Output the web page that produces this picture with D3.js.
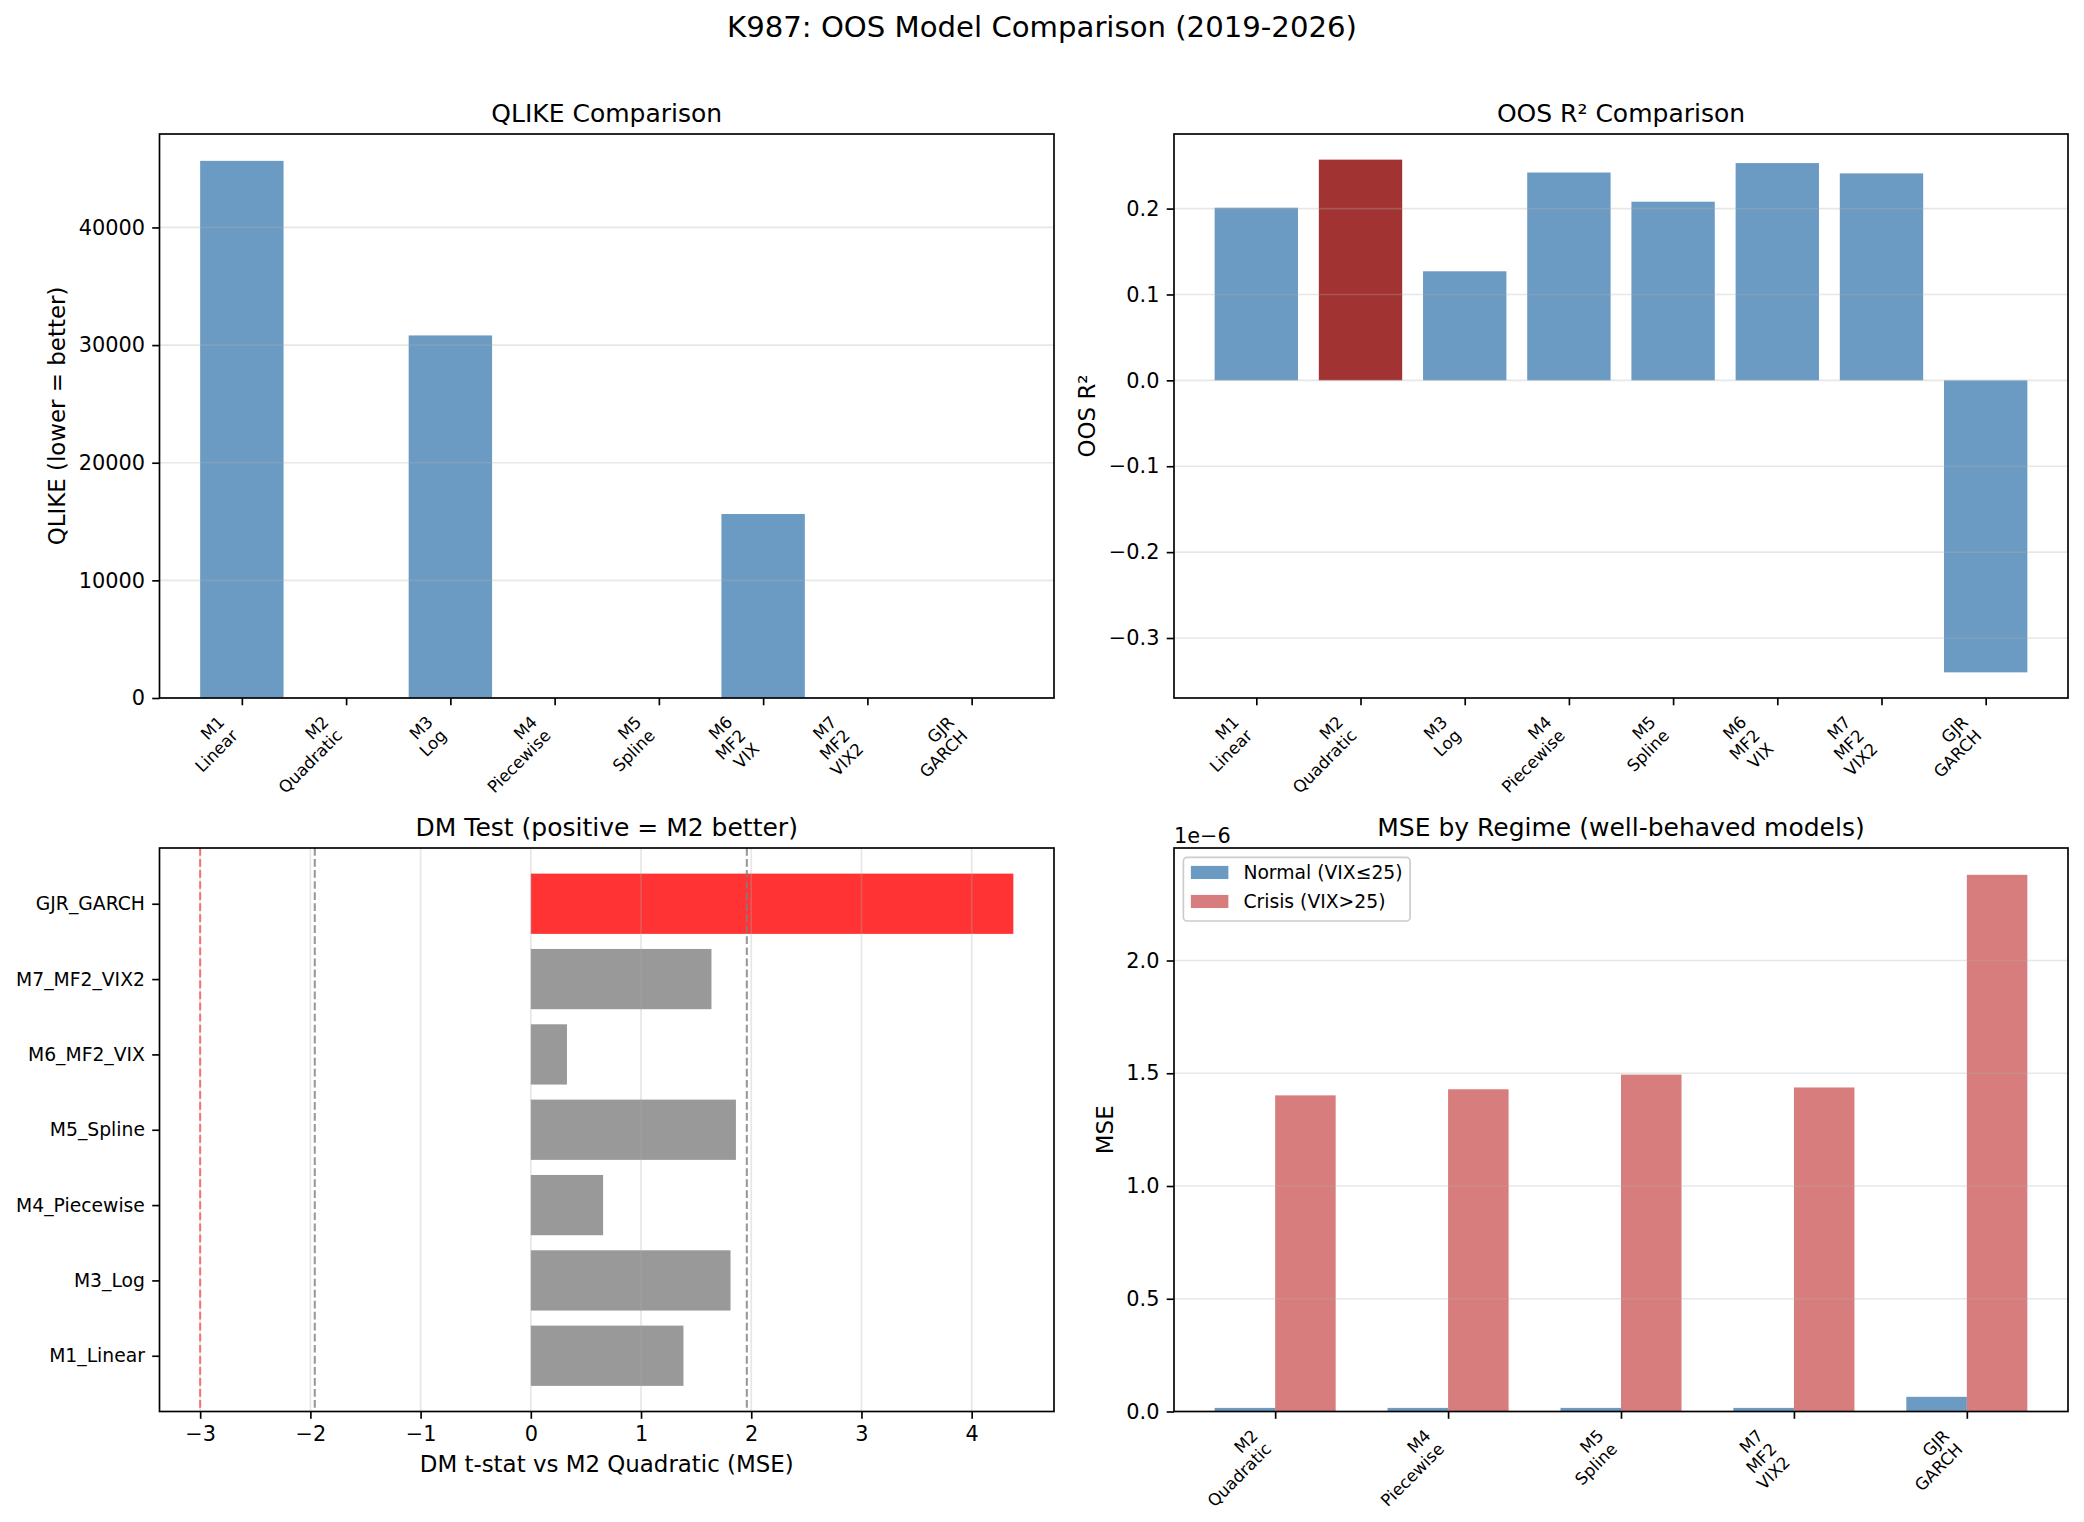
<!DOCTYPE html>
<html>
<head>
<meta charset="utf-8">
<script src="https://cdn.jsdelivr.net/npm/d3@7"></script>
<style>
  body { margin: 0; background: #fff; }
  svg text { font-family: 'DejaVu Sans', sans-serif; fill: #000; }
</style>
</head>
<body>
<svg id="fig" width="2084" height="1522"></svg>
<script>
// ---- data ----
const modelLabels = ['M1\nLinear', 'M2\nQuadratic', 'M3\nLog', 'M4\nPiecewise', 'M5\nSpline', 'M6\nMF2\nVIX', 'M7\nMF2\nVIX2', 'GJR\nGARCH'];
const qlikeValues = [45660, 0, 30820, 0, 0, 15640, 0, 0];
const r2Values = [0.201, 0.257, 0.127, 0.242, 0.208, 0.253, 0.241, -0.340];
const bestModel = 'M2\nQuadratic';

const dmLabels = ['M1_Linear', 'M3_Log', 'M4_Piecewise', 'M5_Spline', 'M6_MF2_VIX', 'M7_MF2_VIX2', 'GJR_GARCH'];
const dmValues = [1.385, 1.812, 0.656, 1.861, 0.328, 1.639, 4.378];
const dmCritical = 1.96;
const dmRefLine = -3;

const regimeLabels = ['M2\nQuadratic', 'M4\nPiecewise', 'M5\nSpline', 'M7\nMF2\nVIX2', 'GJR\nGARCH'];
const mseNormal = [0.016e-6, 0.016e-6, 0.016e-6, 0.016e-6, 0.065e-6];
const mseCrisis = [1.402e-6, 1.429e-6, 1.494e-6, 1.437e-6, 2.380e-6];
const legendLabels = ['Normal (VIX\u226425)', 'Crisis (VIX>25)'];

const qlikeTicks = [0, 10000, 20000, 30000, 40000];
const r2Ticks = [-0.3, -0.2, -0.1, 0.0, 0.1, 0.2];
const dmTicks = [-3, -2, -1, 0, 1, 2, 3, 4];
const mseTicks = [0, 0.5e-6, 1.0e-6, 1.5e-6, 2.0e-6];

// ---- figure geometry (matplotlib at 150 dpi) ----
const W = 2084, H = 1522;
const PT = 150 / 72;
const TICK = 3.5 * PT, PAD = 3.5 * PT, LW = 0.8 * PT;
const FS_TICK = 10 * PT, FS_LABEL = 11 * PT, FS_SMALL = 8 * PT, FS_MED = 9 * PT, FS_TITLE = 12 * PT, FS_SUP = 14 * PT;
const BLUE = '#4682b4', DARKRED = '#8b0000', INDIANRED = '#cd5c5c';

const boxes = {
  tl: { x0: 159.5, x1: 1054, y0: 134, y1: 698 },
  tr: { x0: 1174, x1: 2068, y0: 134, y1: 698 },
  bl: { x0: 159.5, x1: 1054, y0: 848, y1: 1411.5 },
  br: { x0: 1174, x1: 2068, y0: 848, y1: 1411.5 }
};

const svg = d3.select('#fig');
svg.append('rect').attr('width', W).attr('height', H).attr('fill', '#fff');

svg.append('text')
  .attr('x', W / 2).attr('y', 36.5)
  .attr('text-anchor', 'middle')
  .attr('font-size', FS_SUP)
  .text('K987: OOS Model Comparison (2019-2026)');

// categorical domain with matplotlib's 5% margins
function catDomain(n, half) {
  const lo = -half, hi = n - 1 + half, m = 0.05 * (hi - lo);
  return [lo - m, hi + m];
}
function padDomain(lo, hi) {
  const m = 0.05 * (hi - lo);
  return [lo - m, hi + m];
}

function panel(b, title) {
  const g = svg.append('g');
  g.append('text')
    .attr('x', (b.x0 + b.x1) / 2).attr('y', b.y0 - 6 * PT)
    .attr('text-anchor', 'middle')
    .attr('font-size', FS_TITLE)
    .text(title);
  return g;
}

function frame(g, b) {
  g.append('rect')
    .attr('x', b.x0).attr('y', b.y0)
    .attr('width', b.x1 - b.x0).attr('height', b.y1 - b.y0)
    .attr('fill', 'none').attr('stroke', '#000').attr('stroke-width', LW);
}

function styleAxis(ax, fs) {
  ax.attr('font-family', null).attr('font-size', null);
  ax.select('.domain').remove();
  ax.selectAll('line').attr('stroke', '#000').attr('stroke-width', LW);
  ax.selectAll('text').attr('font-size', fs).attr('fill', '#000');
}

function yAxis(g, b, y, ticks, fmt, fs) {
  const ax = g.append('g').attr('transform', `translate(${b.x0},0)`)
    .call(d3.axisLeft(y).tickValues(ticks).tickFormat(fmt).tickSize(TICK).tickPadding(PAD));
  styleAxis(ax, fs);
  return ax;
}

function yGrid(g, b, y, ticks) {
  g.append('g').selectAll('line').data(ticks).join('line')
    .attr('x1', b.x0).attr('x2', b.x1)
    .attr('y1', d => y(d)).attr('y2', d => y(d))
    .attr('stroke', '#b0b0b0').attr('stroke-opacity', 0.3).attr('stroke-width', LW);
}

function yLabel(g, b, ax, text) {
  const bb = ax.node().getBBox();
  const left = b.x0 + bb.x;
  const x = left - 4 * PT - 0.23 * FS_LABEL;
  const cy = (b.y0 + b.y1) / 2;
  g.append('text')
    .attr('transform', `translate(${x},${cy}) rotate(-90)`)
    .attr('text-anchor', 'middle')
    .attr('font-size', FS_LABEL)
    .text(text);
}

// x ticks with 45° rotated, right-aligned multi-line labels
function rotatedXAxis(g, b, x, labels) {
  const ax = g.append('g').attr('transform', `translate(0,${b.y1})`)
    .call(d3.axisBottom(x).tickValues(d3.range(labels.length)).tickFormat('').tickSize(TICK));
  styleAxis(ax, FS_SMALL);
  const c = Math.SQRT1_2;
  labels.forEach((lab, i) => {
    const outer = g.append('g').attr('transform', `translate(${x(i)},${b.y1 + TICK + PAD})`);
    const inner = outer.append('g');
    const t = inner.append('text')
      .attr('font-size', FS_SMALL)
      .attr('text-anchor', 'end')
      .attr('transform', 'rotate(-45)');
    lab.split('\n').forEach((line, k) => {
      t.append('tspan').attr('x', 0).attr('dy', k === 0 ? 0 : '1.14em').text(line);
    });
    const bb = t.node().getBBox();
    const corners = [[bb.x, bb.y], [bb.x + bb.width, bb.y], [bb.x, bb.y + bb.height], [bb.x + bb.width, bb.y + bb.height]]
      .map(([px, py]) => [c * (px + py), c * (py - px)]);
    const maxX = d3.max(corners, p => p[0]);
    const minY = d3.min(corners, p => p[1]);
    inner.attr('transform', `translate(${-maxX},${-minY})`);
  });
}

// ---- QLIKE comparison ----
{
  const b = boxes.tl;
  const g = panel(b, 'QLIKE Comparison');
  const x = d3.scaleLinear().domain(catDomain(qlikeValues.length, 0.4)).range([b.x0, b.x1]);
  const qMax = d3.max(qlikeValues);
  const y = d3.scaleLinear().domain([0, qMax * 1.05]).range([b.y1, b.y0]);
  g.append('g').selectAll('rect').data(qlikeValues).join('rect')
    .attr('x', (d, i) => x(i - 0.4)).attr('width', (d, i) => x(i + 0.4) - x(i - 0.4))
    .attr('y', d => y(d)).attr('height', d => y(0) - y(d))
    .attr('fill', BLUE).attr('fill-opacity', 0.8);
  yGrid(g, b, y, qlikeTicks);
  const ax = yAxis(g, b, y, qlikeTicks, d3.format('d'), FS_TICK);
  rotatedXAxis(g, b, x, modelLabels);
  frame(g, b);
  yLabel(g, b, ax, 'QLIKE (lower = better)');
}

// ---- OOS R² comparison ----
{
  const b = boxes.tr;
  const g = panel(b, 'OOS R\u00b2 Comparison');
  const x = d3.scaleLinear().domain(catDomain(r2Values.length, 0.4)).range([b.x0, b.x1]);
  const y = d3.scaleLinear().domain(padDomain(Math.min(0, d3.min(r2Values)), Math.max(0, d3.max(r2Values)))).range([b.y1, b.y0]);
  g.append('g').selectAll('rect').data(r2Values).join('rect')
    .attr('x', (d, i) => x(i - 0.4)).attr('width', (d, i) => x(i + 0.4) - x(i - 0.4))
    .attr('y', d => y(Math.max(0, d))).attr('height', d => Math.abs(y(0) - y(d)))
    .attr('fill', (d, i) => modelLabels[i] === bestModel ? DARKRED : BLUE).attr('fill-opacity', 0.8);
  yGrid(g, b, y, r2Ticks);
  const ax = yAxis(g, b, y, r2Ticks, d3.format('.1f'), FS_TICK);
  rotatedXAxis(g, b, x, modelLabels);
  frame(g, b);
  yLabel(g, b, ax, 'OOS R\u00b2');
}

// ---- DM test ----
{
  const b = boxes.bl;
  const g = panel(b, 'DM Test (positive = M2 better)');
  const x = d3.scaleLinear()
    .domain(padDomain(Math.min(dmRefLine, -dmCritical, 0, d3.min(dmValues)), Math.max(dmCritical, d3.max(dmValues))))
    .range([b.x0, b.x1]);
  const y = d3.scaleLinear().domain(catDomain(dmValues.length, 0.4)).range([b.y1, b.y0]);
  g.append('g').selectAll('rect').data(dmValues).join('rect')
    .attr('x', d => x(Math.min(0, d))).attr('width', d => Math.abs(x(d) - x(0)))
    .attr('y', (d, i) => y(i + 0.4)).attr('height', (d, i) => y(i - 0.4) - y(i + 0.4))
    .attr('fill', d => d > dmCritical ? '#ff0000' : '#808080').attr('fill-opacity', 0.8);
  g.append('g').selectAll('line').data(dmTicks).join('line')
    .attr('x1', d => x(d)).attr('x2', d => x(d)).attr('y1', b.y0).attr('y2', b.y1)
    .attr('stroke', '#b0b0b0').attr('stroke-opacity', 0.3).attr('stroke-width', LW);
  const vlines = [
    { v: dmRefLine, color: '#ff0000', op: 0.5 },
    { v: -dmCritical, color: '#808080', op: 0.8 },
    { v: dmCritical, color: '#808080', op: 0.8 }
  ];
  g.append('g').selectAll('line').data(vlines).join('line')
    .attr('x1', d => x(d.v)).attr('x2', d => x(d.v)).attr('y1', b.y0).attr('y2', b.y1)
    .attr('stroke', d => d.color).attr('stroke-opacity', d => d.op)
    .attr('stroke-width', 1 * PT).attr('stroke-dasharray', `${3.7 * PT},${1.6 * PT}`);
  const ay = g.append('g').attr('transform', `translate(${b.x0},0)`)
    .call(d3.axisLeft(y).tickValues(d3.range(dmLabels.length)).tickFormat(i => dmLabels[i]).tickSize(TICK).tickPadding(PAD));
  styleAxis(ay, FS_MED);
  const axx = g.append('g').attr('transform', `translate(0,${b.y1})`)
    .call(d3.axisBottom(x).tickValues(dmTicks).tickFormat(d3.format('d')).tickSize(TICK).tickPadding(PAD));
  styleAxis(axx, FS_TICK);
  frame(g, b);
  const bb = axx.node().getBBox();
  g.append('text')
    .attr('x', (b.x0 + b.x1) / 2)
    .attr('y', b.y1 + bb.y + bb.height + 4 * PT + 0.76 * FS_LABEL)
    .attr('text-anchor', 'middle')
    .attr('font-size', FS_LABEL)
    .text('DM t-stat vs M2 Quadratic (MSE)');
}

// ---- MSE by regime ----
{
  const b = boxes.br;
  const g = panel(b, 'MSE by Regime (well-behaved models)');
  const bw = 0.35;
  const x = d3.scaleLinear().domain(catDomain(regimeLabels.length, bw)).range([b.x0, b.x1]);
  const yMax = d3.max(mseNormal.concat(mseCrisis));
  const y = d3.scaleLinear().domain([0, yMax * 1.05]).range([b.y1, b.y0]);
  const series = [
    { vals: mseNormal, off: -bw / 2, color: BLUE },
    { vals: mseCrisis, off: bw / 2, color: INDIANRED }
  ];
  series.forEach(s => {
    g.append('g').selectAll('rect').data(s.vals).join('rect')
      .attr('x', (d, i) => x(i + s.off - bw / 2)).attr('width', (d, i) => x(i + s.off + bw / 2) - x(i + s.off - bw / 2))
      .attr('y', d => y(d)).attr('height', d => y(0) - y(d))
      .attr('fill', s.color).attr('fill-opacity', 0.8);
  });
  yGrid(g, b, y, mseTicks);
  const ax = yAxis(g, b, y, mseTicks, d => (d / 1e-6).toFixed(1), FS_TICK);
  rotatedXAxis(g, b, x, regimeLabels);
  frame(g, b);
  yLabel(g, b, ax, 'MSE');
  g.append('text')
    .attr('x', b.x0).attr('y', b.y0 - 5)
    .attr('font-size', FS_TICK)
    .text('1e\u22126');

  // legend (upper left)
  const fs = FS_MED;
  const lx = b.x0 + 0.5 * fs, ly = b.y0 + 0.5 * fs;
  const rowH = 29;
  const lg = g.append('g');
  const box = lg.append('rect')
    .attr('x', lx).attr('y', ly).attr('rx', 0.2 * fs)
    .attr('fill', '#fff').attr('fill-opacity', 0.8)
    .attr('stroke', '#cccccc').attr('stroke-width', LW);
  let maxW = 0;
  series.forEach((s, k) => {
    const cy = ly + 15.1 + k * rowH;
    const hx = lx + 0.4 * fs;
    lg.append('rect')
      .attr('x', hx).attr('y', cy - 0.35 * fs)
      .attr('width', 2 * fs).attr('height', 0.7 * fs)
      .attr('fill', s.color).attr('fill-opacity', 0.8);
    const t = lg.append('text')
      .attr('x', hx + 2.8 * fs).attr('y', cy + 0.36 * fs)
      .attr('font-size', fs)
      .text(legendLabels[k]);
    maxW = Math.max(maxW, t.node().getComputedTextLength());
  });
  box.attr('width', 0.4 * fs + 2.8 * fs + maxW + 0.4 * fs)
    .attr('height', 2 * 0.4 * fs + rowH + 19.6);
}
</script>
</body>
</html>
